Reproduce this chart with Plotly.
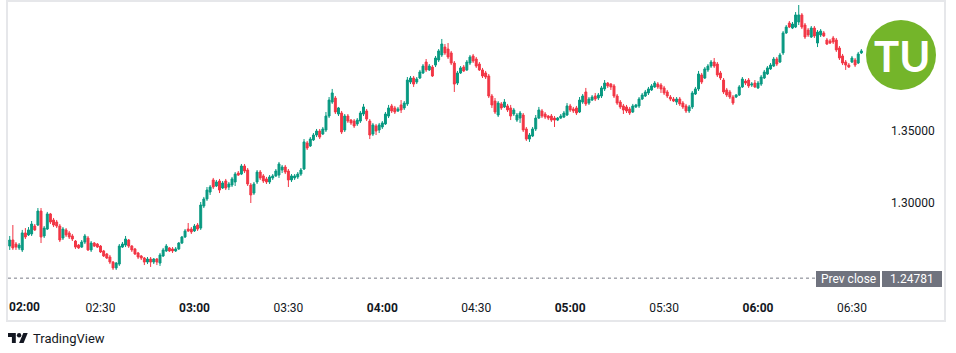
import plotly.graph_objects as go
import pandas as pd

# ---------------- data (1-minute candles) ----------------
opens = [1.2701,1.2743,1.2715,1.2688,1.2674,1.2792,1.2778,1.2785,1.2840,1.2847,
1.2944,1.2771,1.2819,1.2924,1.2882,1.2868,1.2840,1.2757,1.2813,1.2792,
1.2771,1.2736,1.2708,1.2694,1.2729,1.2757,1.2674,1.2722,1.2715,1.2701,
1.2667,1.2646,1.2625,1.2590,1.2549,1.2576,1.2694,1.2708,1.2743,1.2701,
1.2681,1.2653,1.2632,1.2618,1.2590,1.2611,1.2590,1.2611,1.2583,1.2632,
1.2667,1.2688,1.2681,1.2667,1.2681,1.2722,1.2764,1.2819,1.2819,1.2806,
1.2847,1.2826,1.2979,1.3028,1.3076,1.3160,1.3118,1.3153,1.3104,1.3153,
1.3111,1.3125,1.3146,1.3208,1.3201,1.3257,1.3229,1.3125,1.3069,1.3146,
1.3215,1.3188,1.3167,1.3146,1.3174,1.3188,1.3194,1.3229,1.3250,1.3222,
1.3160,1.3174,1.3181,1.3201,1.3236,1.3417,1.3396,1.3438,1.3472,1.3500,
1.3479,1.3507,1.3604,1.3701,1.3729,1.3618,1.3625,1.3507,1.3604,1.3576,
1.3569,1.3549,1.3569,1.3618,1.3639,1.3569,1.3479,1.3535,1.3507,1.3528,
1.3549,1.3604,1.3674,1.3660,1.3639,1.3681,1.3660,1.3688,1.3840,1.3868,
1.3840,1.3868,1.3903,1.3979,1.3924,1.3944,1.3958,1.3993,1.4028,1.4083,
1.4069,1.4042,1.3972,1.3833,1.3903,1.3944,1.3924,1.3972,1.4021,1.4000,
1.3965,1.3924,1.3903,1.3882,1.3743,1.3708,1.3611,1.3688,1.3667,1.3674,
1.3660,1.3618,1.3576,1.3590,1.3611,1.3514,1.3444,1.3465,1.3514,1.3590,
1.3639,1.3618,1.3604,1.3604,1.3590,1.3576,1.3590,1.3597,1.3611,1.3674,
1.3653,1.3660,1.3632,1.3701,1.3771,1.3694,1.3715,1.3743,1.3729,1.3743,
1.3792,1.3833,1.3826,1.3813,1.3743,1.3701,1.3674,1.3667,1.3653,1.3632,
1.3667,1.3674,1.3722,1.3743,1.3764,1.3785,1.3806,1.3826,1.3819,1.3799,
1.3771,1.3736,1.3722,1.3701,1.3722,1.3694,1.3674,1.3639,1.3667,1.3757,
1.3792,1.3889,1.3868,1.3924,1.3951,1.3979,1.3965,1.3903,1.3854,1.3785,
1.3771,1.3736,1.3736,1.3750,1.3806,1.3847,1.3854,1.3819,1.3833,1.3799,
1.3826,1.3868,1.3896,1.3931,1.3951,1.4000,1.3979,1.4042,1.4181,1.4250,
1.4215,1.4222,1.4257,1.4306,1.4236,1.4201,1.4153,1.4215,1.4111,1.4167,
1.4181,1.4132,1.4125,1.4146,1.4132,1.4076,1.4021,1.3979,1.3958,1.3979,
1.3993,1.3972,1.4042]

highs = [1.2771,1.2847,1.2729,1.2722,1.2813,1.2826,1.2833,1.2875,1.2854,1.2965,
1.2965,1.2840,1.2938,1.2931,1.2896,1.2882,1.2854,1.2833,1.2826,1.2806,
1.2785,1.2743,1.2715,1.2743,1.2785,1.2771,1.2736,1.2729,1.2722,1.2708,
1.2674,1.2653,1.2639,1.2597,1.2590,1.2715,1.2729,1.2771,1.2750,1.2708,
1.2688,1.2660,1.2639,1.2625,1.2625,1.2625,1.2618,1.2618,1.2653,1.2688,
1.2715,1.2694,1.2694,1.2694,1.2729,1.2771,1.2819,1.2861,1.2833,1.2854,
1.2861,1.3007,1.3042,1.3111,1.3125,1.3174,1.3160,1.3167,1.3153,1.3167,
1.3146,1.3181,1.3215,1.3222,1.3271,1.3271,1.3243,1.3139,1.3146,1.3229,
1.3229,1.3201,1.3181,1.3194,1.3201,1.3236,1.3285,1.3264,1.3264,1.3236,
1.3201,1.3201,1.3215,1.3243,1.3444,1.3431,1.3458,1.3486,1.3514,1.3514,
1.3528,1.3632,1.3736,1.3792,1.3743,1.3667,1.3639,1.3618,1.3618,1.3583,
1.3583,1.3590,1.3639,1.3688,1.3653,1.3583,1.3556,1.3549,1.3556,1.3569,
1.3632,1.3681,1.3688,1.3674,1.3667,1.3715,1.3708,1.3875,1.3882,1.3882,
1.3875,1.3924,1.3965,1.4000,1.3965,1.3958,1.4021,1.4069,1.4139,1.4104,
1.4111,1.4056,1.3986,1.3917,1.3951,1.3958,1.3993,1.4028,1.4035,1.4014,
1.3979,1.3938,1.3917,1.3896,1.3757,1.3729,1.3708,1.3701,1.3722,1.3688,
1.3681,1.3660,1.3625,1.3639,1.3625,1.3528,1.3486,1.3528,1.3611,1.3667,
1.3653,1.3632,1.3611,1.3618,1.3604,1.3597,1.3618,1.3639,1.3694,1.3688,
1.3667,1.3674,1.3736,1.3757,1.3799,1.3736,1.3750,1.3764,1.3764,1.3813,
1.3854,1.3840,1.3833,1.3826,1.3757,1.3715,1.3688,1.3681,1.3667,1.3688,
1.3688,1.3736,1.3764,1.3785,1.3806,1.3826,1.3847,1.3840,1.3833,1.3813,
1.3785,1.3750,1.3736,1.3736,1.3736,1.3708,1.3688,1.3681,1.3778,1.3806,
1.3917,1.3903,1.3944,1.3965,1.3993,1.4007,1.3979,1.3917,1.3868,1.3799,
1.3785,1.3750,1.3757,1.3819,1.3875,1.3861,1.3868,1.3840,1.3854,1.3847,
1.3889,1.3924,1.3951,1.3972,1.4014,1.4014,1.4042,1.4194,1.4236,1.4264,
1.4257,1.4326,1.4375,1.4319,1.4250,1.4215,1.4229,1.4229,1.4201,1.4208,
1.4194,1.4146,1.4139,1.4160,1.4146,1.4090,1.4035,1.3993,1.3972,1.4021,
1.4007,1.4049,1.4069]

lows = [1.2674,1.2674,1.2674,1.2674,1.2660,1.2750,1.2771,1.2771,1.2806,1.2840,
1.2722,1.2757,1.2813,1.2854,1.2833,1.2826,1.2729,1.2743,1.2764,1.2750,
1.2736,1.2681,1.2681,1.2688,1.2715,1.2667,1.2660,1.2694,1.2688,1.2653,
1.2625,1.2611,1.2576,1.2535,1.2535,1.2563,1.2688,1.2694,1.2688,1.2660,
1.2639,1.2611,1.2604,1.2569,1.2576,1.2556,1.2576,1.2569,1.2563,1.2625,
1.2660,1.2660,1.2653,1.2660,1.2674,1.2715,1.2757,1.2799,1.2785,1.2799,
1.2806,1.2813,1.2965,1.3014,1.3056,1.3097,1.3111,1.3069,1.3097,1.3090,
1.3090,1.3111,1.3118,1.3188,1.3194,1.3208,1.3118,1.3000,1.3056,1.3132,
1.3160,1.3139,1.3132,1.3132,1.3160,1.3181,1.3174,1.3208,1.3201,1.3111,
1.3146,1.3160,1.3167,1.3188,1.3229,1.3368,1.3389,1.3431,1.3458,1.3444,
1.3472,1.3493,1.3590,1.3688,1.3618,1.3604,1.3479,1.3493,1.3556,1.3542,
1.3521,1.3535,1.3556,1.3604,1.3569,1.3444,1.3465,1.3472,1.3486,1.3514,
1.3542,1.3590,1.3625,1.3618,1.3632,1.3625,1.3646,1.3674,1.3826,1.3806,
1.3826,1.3861,1.3896,1.3910,1.3917,1.3875,1.3944,1.3979,1.4014,1.4028,
1.4000,1.3958,1.3771,1.3819,1.3896,1.3910,1.3917,1.3958,1.3972,1.3938,
1.3917,1.3868,1.3861,1.3729,1.3660,1.3618,1.3597,1.3646,1.3660,1.3632,
1.3576,1.3604,1.3563,1.3556,1.3493,1.3431,1.3424,1.3458,1.3500,1.3583,
1.3590,1.3583,1.3576,1.3563,1.3528,1.3569,1.3583,1.3590,1.3604,1.3632,
1.3625,1.3611,1.3625,1.3688,1.3674,1.3681,1.3708,1.3708,1.3715,1.3729,
1.3778,1.3799,1.3785,1.3729,1.3681,1.3653,1.3618,1.3625,1.3611,1.3625,
1.3660,1.3660,1.3715,1.3736,1.3750,1.3778,1.3799,1.3792,1.3764,1.3750,
1.3729,1.3708,1.3701,1.3681,1.3674,1.3653,1.3625,1.3625,1.3653,1.3750,
1.3778,1.3826,1.3861,1.3910,1.3938,1.3938,1.3875,1.3854,1.3757,1.3736,
1.3722,1.3681,1.3729,1.3743,1.3799,1.3819,1.3799,1.3806,1.3799,1.3792,
1.3813,1.3861,1.3889,1.3924,1.3944,1.3951,1.3972,1.4028,1.4174,1.4215,
1.4208,1.4215,1.4236,1.4208,1.4139,1.4153,1.4146,1.4146,1.4083,1.4153,
1.4153,1.4097,1.4104,1.4104,1.4049,1.3993,1.3958,1.3924,1.3938,1.3972,
1.3944,1.3965,1.4035]

closes = [1.2743,1.2688,1.2694,1.2708,1.2792,1.2764,1.2813,1.2854,1.2813,1.2944,
1.2764,1.2826,1.2924,1.2868,1.2847,1.2840,1.2743,1.2819,1.2778,1.2764,
1.2750,1.2694,1.2688,1.2729,1.2771,1.2674,1.2722,1.2701,1.2694,1.2660,
1.2632,1.2618,1.2590,1.2549,1.2583,1.2701,1.2715,1.2750,1.2701,1.2674,
1.2646,1.2625,1.2618,1.2590,1.2611,1.2590,1.2611,1.2590,1.2639,1.2674,
1.2701,1.2667,1.2667,1.2681,1.2722,1.2764,1.2806,1.2806,1.2799,1.2840,
1.2819,1.2986,1.3028,1.3090,1.3111,1.3111,1.3146,1.3090,1.3139,1.3104,
1.3132,1.3167,1.3201,1.3194,1.3257,1.3222,1.3132,1.3056,1.3132,1.3215,
1.3174,1.3153,1.3146,1.3181,1.3188,1.3222,1.3271,1.3250,1.3215,1.3160,
1.3188,1.3188,1.3201,1.3229,1.3424,1.3382,1.3444,1.3472,1.3500,1.3458,
1.3514,1.3604,1.3715,1.3764,1.3632,1.3660,1.3493,1.3604,1.3569,1.3556,
1.3535,1.3576,1.3625,1.3667,1.3583,1.3472,1.3542,1.3500,1.3542,1.3556,
1.3618,1.3660,1.3639,1.3632,1.3653,1.3646,1.3694,1.3854,1.3868,1.3826,
1.3861,1.3910,1.3951,1.3924,1.3951,1.3882,1.4007,1.4056,1.4104,1.4042,
1.4014,1.3972,1.3826,1.3903,1.3938,1.3917,1.3979,1.4014,1.3986,1.3951,
1.3924,1.3882,1.3875,1.3743,1.3681,1.3632,1.3694,1.3660,1.3701,1.3646,
1.3604,1.3646,1.3611,1.3625,1.3507,1.3444,1.3472,1.3514,1.3590,1.3646,
1.3604,1.3597,1.3590,1.3576,1.3576,1.3590,1.3604,1.3625,1.3674,1.3646,
1.3639,1.3625,1.3715,1.3743,1.3688,1.3722,1.3736,1.3722,1.3750,1.3799,
1.3833,1.3813,1.3806,1.3743,1.3694,1.3667,1.3646,1.3639,1.3625,1.3674,
1.3681,1.3722,1.3750,1.3771,1.3792,1.3813,1.3833,1.3806,1.3792,1.3764,
1.3743,1.3722,1.3708,1.3722,1.3688,1.3667,1.3639,1.3667,1.3764,1.3792,
1.3896,1.3840,1.3931,1.3951,1.3979,1.3951,1.3889,1.3868,1.3771,1.3750,
1.3736,1.3694,1.3750,1.3806,1.3861,1.3833,1.3813,1.3826,1.3806,1.3833,
1.3875,1.3910,1.3938,1.3958,1.4000,1.3965,1.4028,1.4181,1.4222,1.4222,
1.4243,1.4306,1.4306,1.4222,1.4153,1.4167,1.4215,1.4160,1.4187,1.4194,
1.4160,1.4104,1.4111,1.4118,1.4063,1.4007,1.3972,1.3958,1.3944,1.4007,
1.3958,1.4035,1.4056]

prev_close = 1.24781
price_ticks = [1.30, 1.35]
price_tick_labels = ["1.30000", "1.35000"]
time_ticks = ["02:30", "03:00", "03:30", "04:00", "04:30", "05:00", "05:30", "06:00", "06:30"]
first_time_label = "02:00"
session_day = "2024-01-01"

times = pd.date_range(f"{session_day} 02:01", periods=len(closes), freq="min")

# ---------------- geometry helpers (pixels -> paper) ----------------
W, H = 956, 353
ML, MR, MT, MB = 8, 66, 3, 60
PW, PH = W - ML - MR, H - MT - MB
def px(x):
    return (x - ML) / PW
def py(y):
    return (H - MB - y) / PH

UP, DOWN = "#089981", "#f23645"
TXT = "#131722"
FONT = "Roboto, 'Noto Sans', sans-serif"

fig = go.Figure()
fig.add_trace(go.Candlestick(
    x=times, open=opens, high=highs, low=lows, close=closes,
    increasing=dict(line=dict(color=UP, width=1), fillcolor=UP),
    decreasing=dict(line=dict(color=DOWN, width=1), fillcolor=DOWN),
    whiskerwidth=0, showlegend=False, hoverinfo="skip",
))

tick_text = []
for t in time_ticks:
    tick_text.append(f"<b>{t}</b>" if t.endswith(":00") else t)

fig.update_layout(
    width=W, height=H,
    margin=dict(l=ML, r=MR, t=MT, b=MB),
    paper_bgcolor="white", plot_bgcolor="white",
    font=dict(family=FONT, size=12, color=TXT),
    showlegend=False,
    boxgap=0.12,
    xaxis=dict(
        type="date",
        range=[f"{session_day} 02:00:27", f"{session_day} 06:42:09"],
        tickvals=[f"{session_day} {t}" for t in time_ticks],
        ticktext=tick_text,
        showgrid=False, zeroline=False, showline=False, ticks="",
        ticklabelstandoff=6,
        tickfont=dict(size=12, color=TXT),
        rangeslider=dict(visible=False),
        fixedrange=True,
    ),
    yaxis=dict(
        side="right",
        range=[1.30 - 90 / 1440, 1.30 + 200 / 1440],
        tickvals=price_ticks, ticktext=price_tick_labels,
        showgrid=False, zeroline=False, showline=False, ticks="",
        tickfont=dict(size=12, color=TXT),
        fixedrange=True,
    ),
)

shapes = []
# outer frame
shapes.append(dict(type="rect", xref="paper", yref="paper",
                   x0=px(7), x1=px(945), y0=py(321), y1=py(1),
                   line=dict(color="#e6e7ea", width=2), fillcolor="rgba(0,0,0,0)", layer="above"))
# prev close dotted line
shapes.append(dict(type="line", xref="paper", yref="y",
                   x0=0, x1=px(815), y0=prev_close, y1=prev_close,
                   line=dict(color="#787b86", width=1, dash="dot")))
# prev close label boxes
shapes.append(dict(type="rect", xref="paper", yref="paper",
                   x0=px(816), x1=px(880), y0=py(287), y1=py(271),
                   line=dict(width=0), fillcolor="#70737e", layer="above"))
shapes.append(dict(type="rect", xref="paper", yref="paper",
                   x0=px(882), x1=px(942), y0=py(287), y1=py(271),
                   line=dict(width=0), fillcolor="#70737e", layer="above"))
# green logo circle
shapes.append(dict(type="circle", xref="paper", yref="paper",
                   x0=px(866), x1=px(936), y0=py(90), y1=py(20),
                   line=dict(width=0), fillcolor="#74b52a", layer="above"))
# TradingView glyph in the footer
def path(points):
    s = "M " + " L ".join(f"{px(a):.5f},{py(b):.5f}" for a, b in points) + " Z"
    return s
shapes.append(dict(type="path", xref="paper", yref="paper",
                   path=path([(8, 333), (15.8, 333), (15.8, 343), (11.9, 343), (11.9, 336.9), (8, 336.9)]),
                   line=dict(width=0), fillcolor=TXT))
shapes.append(dict(type="circle", xref="paper", yref="paper",
                   x0=px(16.9), x1=px(21.3), y0=py(337.4), y1=py(333),
                   line=dict(width=0), fillcolor=TXT))
shapes.append(dict(type="path", xref="paper", yref="paper",
                   path=path([(19.1, 343), (23.3, 333), (27.7, 333), (23.6, 343)]),
                   line=dict(width=0), fillcolor=TXT))
fig.update_layout(shapes=shapes)

ann = []
ann.append(dict(xref="paper", yref="paper", x=px(848), y=py(279), text="Prev close",
                showarrow=False, font=dict(size=12, color="white", family=FONT),
                xanchor="center", yanchor="middle"))
ann.append(dict(xref="paper", yref="paper", x=px(912), y=py(279), text="1.24781",
                showarrow=False, font=dict(size=12, color="white", family=FONT),
                xanchor="center", yanchor="middle"))
ann.append(dict(xref="paper", yref="paper", x=px(902), y=py(56), text="<b>TU</b>",
                showarrow=False, font=dict(size=42, color="white", family="Lato, Roboto, sans-serif"),
                xanchor="center", yanchor="middle"))
ann.append(dict(xref="paper", yref="paper", x=px(7), y=py(307), text=f"<b>{first_time_label}</b>",
                showarrow=False, font=dict(size=12, color=TXT, family=FONT),
                xanchor="left", yanchor="middle"))
ann.append(dict(xref="paper", yref="paper", x=px(31), y=py(338), text="TradingView",
                showarrow=False, font=dict(size=13, color=TXT, family=FONT),
                xanchor="left", yanchor="middle"))
fig.update_layout(annotations=ann)

fig.write_html("out.html", config={"displayModeBar": False})
